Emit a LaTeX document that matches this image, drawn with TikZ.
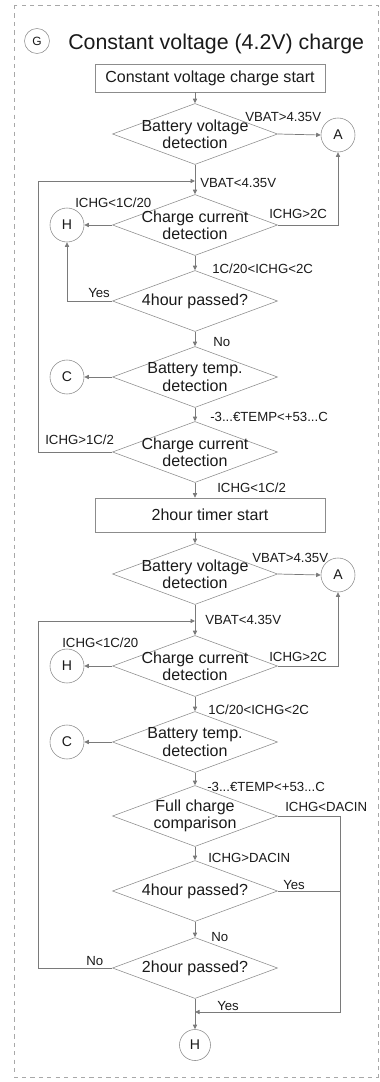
\documentclass[tikz,border=0pt]{standalone}
\usepackage{fontspec}
\setmainfont{Liberation Sans}
\usetikzlibrary{arrows.meta, shapes.geometric}
\definecolor{lineGray}{HTML}{7A7A7A}
\definecolor{boxGray}{HTML}{8C8C8C}
\definecolor{frameGray}{HTML}{A8A8A8}
\definecolor{textDark}{HTML}{1A1A1A}
\tikzset{
  procbox/.style={draw=boxGray, minimum width=5.75cm, inner sep=0pt, text=textDark, font=\fontsize{11.4}{12.2}\selectfont},
  dectext/.style={align=center, inner sep=0pt, text=textDark, font=\fontsize{11.4}{12.2}\selectfont},
  decision/.style={diamond, draw=boxGray, minimum width=4.125cm, minimum height=1.525cm, inner sep=0pt, label={[dectext]center:{#1}}},
  conn/.style={circle, draw=boxGray, minimum size=0.85cm, inner sep=0pt, text=textDark, font=\fontsize{10}{12}\selectfont},
  flowarr/.style={-{Triangle[length=3.2pt, width=3pt]}, draw=lineGray, line width=0.5pt},
  flowline/.style={draw=lineGray, line width=0.5pt},
  edgelbl/.style={anchor=west, inner sep=0pt, text=textDark, font=\fontsize{9.4}{11}\selectfont},
}
\begin{document}
\begin{tikzpicture}[x=0.025cm, y=-0.025cm]
  \useasboundingbox (0,0) rectangle (380,1082);
  \draw[frameGray, dashed, line width=0.5pt] (14,5) rectangle (378,1077);

  % title
  \node[conn, minimum size=0.625cm, font=\fontsize{8.5}{10}\selectfont] (G) at (37,41) {G};
  \node[anchor=base west, inner sep=0pt, text=textDark, font=\fontsize{15.2}{18}\selectfont] (title) at (68,50) {Constant voltage (4.2V) charge};

  % first stage
  \node[procbox, minimum height=0.7cm] (cvstart) at (210,78) {Constant voltage charge start};
  \node[decision={Battery voltage\\detection}] (bv1) at (195,134) {};
  \node[conn] (A1) at (338,135) {A};
  \coordinate (j1) at (195,181);
  \node[decision={Charge current\\detection}] (cc1) at (195,225) {};
  \node[conn] (H1) at (67,225) {H};
  \node[decision={4hour passed?}] (h4a) at (195,301) {};
  \node[decision={Battery temp.\\detection}] (bt1) at (195,377) {};
  \node[conn] (C1) at (67,377) {C};
  \node[decision={Charge current\\detection}] (cc2) at (195,452) {};

  % second stage
  \node[procbox, minimum height=0.85cm] (timer) at (210,515) {2hour timer start};
  \node[decision={Battery voltage\\detection}] (bv2) at (195,574) {};
  \node[conn] (A2) at (338,575) {A};
  \coordinate (j2) at (195,621);
  \node[decision={Charge current\\detection}] (cc3) at (195,666) {};
  \node[conn] (H2) at (67,666) {H};
  \node[decision={Battery temp.\\detection}] (bt2) at (195,742) {};
  \node[conn] (C2) at (67,742) {C};
  \node[decision={Full charge\\comparison}] (fc) at (195,816) {};
  \node[decision={4hour passed?}] (h4b) at (195,891) {};
  \node[decision={2hour passed?}] (h2b) at (195,968) {};
  \coordinate (j4) at (195,1012);
  \node[conn, minimum size=0.775cm] (Hend) at (195,1045) {H};

  % connectors, first stage
  \draw[flowarr] (cvstart.south -| bv1.north) -- (bv1.north);
  \draw[flowarr] (bv1.east) -- (A1.west);
  \draw[flowarr] (bv1.south) -- (cc1.north);
  \draw[flowarr] (cc1.west) -- (H1.east);
  \draw[flowarr] (cc1.east) -| (A1.south);
  \draw[flowarr] (cc1.south) -- (h4a.north);
  \draw[flowarr] (h4a.west) -| (H1.south);
  \draw[flowarr] (h4a.south) -- (bt1.north);
  \draw[flowarr] (bt1.west) -- (C1.east);
  \draw[flowarr] (bt1.south) -- (cc2.north);
  \draw[flowarr] (cc2.west) -- ++(-74,0) |- (j1);
  \draw[flowarr] (cc2.south) -- (timer.north -| cc2.south);

  % connectors, second stage
  \draw[flowarr] (timer.south -| bv2.north) -- (bv2.north);
  \draw[flowarr] (bv2.east) -- (A2.west);
  \draw[flowarr] (bv2.south) -- (cc3.north);
  \draw[flowarr] (cc3.west) -- (H2.east);
  \draw[flowarr] (cc3.east) -| (A2.south);
  \draw[flowarr] (cc3.south) -- (bt2.north);
  \draw[flowarr] (bt2.west) -- (C2.east);
  \draw[flowarr] (bt2.south) -- (fc.north);
  \draw[flowarr] (fc.south) -- (h4b.north);
  \draw[flowarr] (fc.east) -- ++(63,0) |- (j4);
  \draw[flowline] (h4b.east) -- ++(63,0);
  \draw[flowarr] (h4b.south) -- (h2b.north);
  \draw[flowarr] (h2b.west) -- ++(-74,0) |- (j2);
  \draw[flowarr] (h2b.south) -- (Hend.north);

  % edge labels
  \node[edgelbl] (l1) at (245,117) {VBAT>4.35V};
  \node[edgelbl] (l2) at (200,183) {VBAT<4.35V};
  \node[edgelbl] (l3) at (75,203) {ICHG<1C/20};
  \node[edgelbl] (l4) at (269,214) {ICHG>2C};
  \node[edgelbl] (l5) at (212,269) {1C/20<ICHG<2C};
  \node[edgelbl] (l6) at (88,293) {Yes};
  \node[edgelbl] (l7) at (213,342) {No};
  \node[edgelbl] (l8) at (210,417) {-3...€TEMP<+53...C};
  \node[edgelbl] (l9) at (45,440) {ICHG>1C/2};
  \node[edgelbl] (l10) at (217,488) {ICHG<1C/2};
  \node[edgelbl] (l11) at (252,558) {VBAT>4.35V};
  \node[edgelbl] (l12) at (205,620) {VBAT<4.35V};
  \node[edgelbl] (l13) at (62,643) {ICHG<1C/20};
  \node[edgelbl] (l14) at (269,657) {ICHG>2C};
  \node[edgelbl] (l15) at (208,710) {1C/20<ICHG<2C};
  \node[edgelbl] (l16) at (207,787) {-3...€TEMP<+53...C};
  \node[edgelbl] (l17) at (285,807) {ICHG<DACIN};
  \node[edgelbl] (l18) at (208,858) {ICHG>DACIN};
  \node[edgelbl] (l19) at (283,885) {Yes};
  \node[edgelbl] (l20) at (211,937) {No};
  \node[edgelbl] (l21) at (86,961) {No};
  \node[edgelbl] (l22) at (217,1006) {Yes};
\end{tikzpicture}
\end{document}
